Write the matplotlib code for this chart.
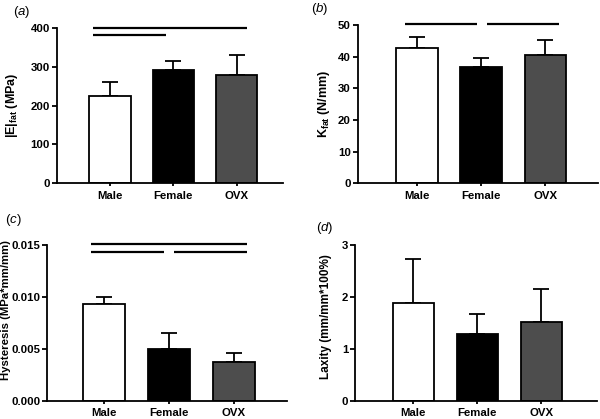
import matplotlib
matplotlib.use('Agg')
import matplotlib.pyplot as plt

plt.rcParams['font.family'] = ['Liberation Sans', 'DejaVu Sans']
plt.rcParams['font.weight'] = 'bold'
plt.rcParams['axes.labelweight'] = 'bold'
plt.rcParams['mathtext.fontset'] = 'custom'
plt.rcParams['mathtext.rm'] = 'Liberation Sans:weight=bold'
plt.rcParams['mathtext.bf'] = 'Liberation Sans:weight=bold'
plt.rcParams['mathtext.it'] = 'Liberation Sans:style=italic:weight=normal'

# Datos
grupos = ['Male', 'Female', 'OVX']
colores = ['white', 'black', '#4d4d4d']

e_fat = [226, 292, 280]
e_fat_err = [34, 24, 50]

k_fat = [42.8, 36.8, 40.5]
k_fat_err = [3.4, 2.9, 4.7]

histeresis = [0.00932, 0.00502, 0.00372]
histeresis_err = [0.00066, 0.00146, 0.00083]

laxitud = [1.875, 1.29, 1.51]
laxitud_err = [0.855, 0.38, 0.64]

# barras de significancia: (x inicio, x fin, altura)
sig_a = [(-0.27, 2.17, 400), (-0.27, 0.885, 382)]
sig_b = [(-0.19, 0.93, 50.3), (1.09, 2.21, 50.3)]
sig_c = [(-0.2, 2.2, 0.0151), (-0.2, 0.93, 0.01435), (1.08, 2.2, 0.01435)]

fig = plt.figure(figsize=(6, 4.19), dpi=100)


def panel(pos, valores, errores, ylim, yticks, ylabel, xlim, letra, letra_pos,
          label_xy, sig=None, fmt=None, label_size=8.5):
    ax = fig.add_axes(pos)
    x = range(len(grupos))
    ax.bar(x, valores, width=0.65, color=colores, edgecolor='black', linewidth=1.3, zorder=2)
    # solo la mitad superior del error, como en GraphPad
    ax.errorbar(x, valores, yerr=[[0] * len(errores), errores], fmt='none',
                ecolor='black', elinewidth=1.3, capsize=5.5, capthick=1.3, zorder=1)
    ax.set_ylim(*ylim)
    ax.set_xlim(*xlim)
    ax.set_yticks(yticks)
    if fmt:
        ax.set_yticklabels([fmt.format(t) for t in yticks])
    ax.set_xticks(list(x))
    ax.set_xticklabels(grupos)
    ax.spines['top'].set_visible(False)
    ax.spines['right'].set_visible(False)
    ax.spines['left'].set_linewidth(1.3)
    ax.spines['bottom'].set_linewidth(1.3)
    ax.tick_params(axis='y', length=3.5, width=1.3, labelsize=8.2, pad=1.5)
    ax.tick_params(axis='x', length=2.5, width=1.3, labelsize=8.2, pad=3.0)
    ax.set_ylabel(ylabel, fontsize=label_size)
    ax.yaxis.set_label_coords(*label_xy)
    if sig:
        for x0, x1, h in sig:
            ax.plot([x0, x1], [h, h], color='black', linewidth=1.6, clip_on=False,
                    solid_capstyle='butt')
    fig.text(letra_pos[0], letra_pos[1], '($\\it{' + letra + '}$)', fontsize=9.5,
             fontweight='normal', ha='left', va='center')
    return ax


panel([0.095, 0.563, 0.377, 0.370], e_fat, e_fat_err, (0, 400), [0, 100, 200, 300, 400],
      r'$\mathbf{|E|_{fat}}$ (MPa)', (-0.838, 2.735), 'a', (0.022, 0.972),
      (-0.164, 0.5), sig_a, label_size=9)
panel([0.596, 0.563, 0.400, 0.377], k_fat, k_fat_err, (0, 50), [0, 10, 20, 30, 40, 50],
      r'$\mathbf{K_{fat}}$ (N/mm)', (-0.92, 2.81), 'b', (0.518, 0.978),
      (-0.107, 0.5), sig_b, label_size=9)
panel([0.079, 0.0437, 0.399, 0.372], histeresis, histeresis_err, (0, 0.015),
      [0, 0.005, 0.010, 0.015], 'Hysteresis (MPa*mm/mm)', (-0.87, 2.82), 'c',
      (0.008, 0.475), (-0.152, 0.58), sig_c, fmt='{:.3f}', label_size=8.2)
panel([0.592, 0.0437, 0.403, 0.372], laxitud, laxitud_err, (0, 3), [0, 1, 2, 3],
      'Laxity (mm/mm*100%)', (-0.91, 2.87), 'd', (0.527, 0.455), (-0.095, 0.54))

fig.savefig('out.png', dpi=100)
